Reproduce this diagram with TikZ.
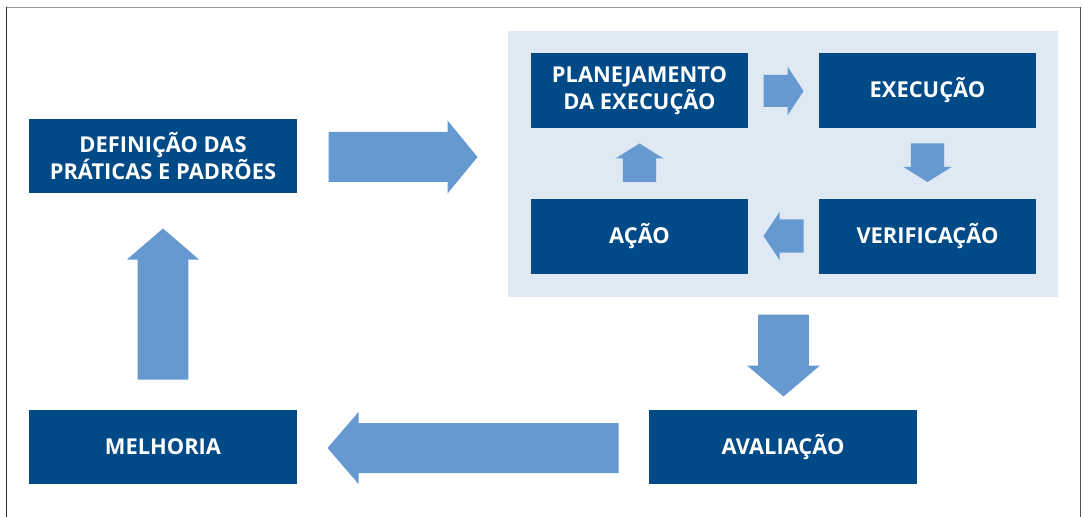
\documentclass[tikz,border=0pt]{standalone}
\usepackage{fontspec}
\setmainfont{Open Sans}
\usetikzlibrary{calc}

\definecolor{caixaazul}{RGB}{0,74,135}
\definecolor{setaazul}{RGB}{102,153,207}
\definecolor{fundoazul}{RGB}{223,233,244}

\tikzset{every picture/.style={line width=0.75pt}}
\tikzset{
	caixa/.style={fill=caixaazul, text=white, align=center, inner sep=0pt,
		font=\fontsize{16.4}{20.25}\selectfont\bfseries},
	caixa larga/.style={caixa, minimum width=201pt, minimum height=55.5pt},
	caixa ciclo/.style={caixa, minimum width=162.75pt, minimum height=56.25pt},
	seta/.style={fill=setaazul}}

% block arrow: tail, tip, shaft half width, head half width, head length (pt)
\newcommand{\blocoseta}[5]{%
	\coordinate (bs-base) at ($(#2)!#5!(#1)$);
	\fill[seta] ($(#1)!#3!90:(#2)$) -- ($(bs-base)!#3!90:(#2)$) -- ($(bs-base)!#4!90:(#2)$) -- (#2)
		-- ($(bs-base)!#4!-90:(#2)$) -- ($(bs-base)!#3!-90:(#2)$) -- ($(#1)!#3!-90:(#2)$) -- cycle;}

\begin{document}
\begin{tikzpicture}[x=0.75pt,y=0.75pt,yscale=-1,xscale=1]
	\useasboundingbox (0,0) rectangle (1083,517);

	%Frame
	\draw [color={rgb, 255:red, 150; green, 150; blue, 150 }] (6,7.5) -- (1080,7.5);
	\draw [color={rgb, 255:red, 40; green, 40; blue, 40 }] (6.5,7) -- (6.5,517);
	\draw [color={rgb, 255:red, 80; green, 80; blue, 80 }] (1080,7) -- (1080,517);

	%Shape: Rectangle (cycle background)
	\node [fill=fundoazul, minimum width=412.5pt, minimum height=199.5pt, inner sep=0pt] (ciclo) at (783,164) {};

	% Text Nodes
	\node [caixa larga] (def) at (163,156) {DEFINIÇÃO DAS\\PRÁTICAS E PADRÕES};
	\node [caixa larga] (melh) at (163,447) {MELHORIA};
	\node [caixa larga] (aval) at (783,447) {AVALIAÇÃO};
	\node [caixa ciclo] (plan) at (639.5,90.5) {PLANEJAMENTO\\DA EXECUÇÃO};
	\node [caixa ciclo] (exec) at (927.5,90.5) {EXECUÇÃO};
	\node [caixa ciclo] (verif) at (927.5,236) {VERIFICAÇÃO};
	\node [caixa ciclo] (acao) at (639.5,236) {AÇÃO};

	%Arrow ends
	\coordinate (def-t) at ($(def.east)+(31,1)$);
	\coordinate (ciclo-p) at ($(ciclo.west)+(-30,-7)$);
	\coordinate (plan-t) at ($(plan.east)+(15,0.5)$);
	\coordinate (exec-p) at ($(exec.west)+(-15,0.5)$);
	\coordinate (exec-t) at ($(exec.south)+(0,15)$);
	\coordinate (verif-p) at ($(verif.north)+(0,-16)$);
	\coordinate (verif-t) at ($(verif.west)+(-15,0)$);
	\coordinate (acao-p) at ($(acao.east)+(15,0)$);
	\coordinate (acao-t) at ($(acao.north)+(0,-16)$);
	\coordinate (plan-p) at ($(plan.south)+(0,15)$);
	\coordinate (ciclo-t) at ($(ciclo.south)+(0.5,17)$);
	\coordinate (aval-p) at ($(aval.north)+(0.5,-13)$);
	\coordinate (aval-t) at ($(aval.west)+(-30,1)$);
	\coordinate (melh-p) at ($(melh.east)+(30,1)$);
	\coordinate (melh-t) at ($(melh.north)+(0,-30)$);
	\coordinate (def-p) at ($(def.south)+(0,35)$);

	%Block Arrows
	\blocoseta{def-t}{ciclo-p}{18.75pt}{27.4pt}{22.5pt}
	\blocoseta{plan-t}{exec-p}{12pt}{18.4pt}{12pt}
	\blocoseta{exec-t}{verif-p}{12.4pt}{18pt}{11.25pt}
	\blocoseta{verif-t}{acao-p}{12.4pt}{18pt}{12pt}
	\blocoseta{acao-t}{plan-p}{12.4pt}{18pt}{11.25pt}
	\blocoseta{ciclo-t}{aval-p}{19.1pt}{27.4pt}{23.25pt}
	\blocoseta{aval-t}{melh-p}{18.75pt}{27pt}{23.25pt}
	\blocoseta{melh-t}{def-p}{19.1pt}{27pt}{23.25pt}

\end{tikzpicture}
\end{document}
